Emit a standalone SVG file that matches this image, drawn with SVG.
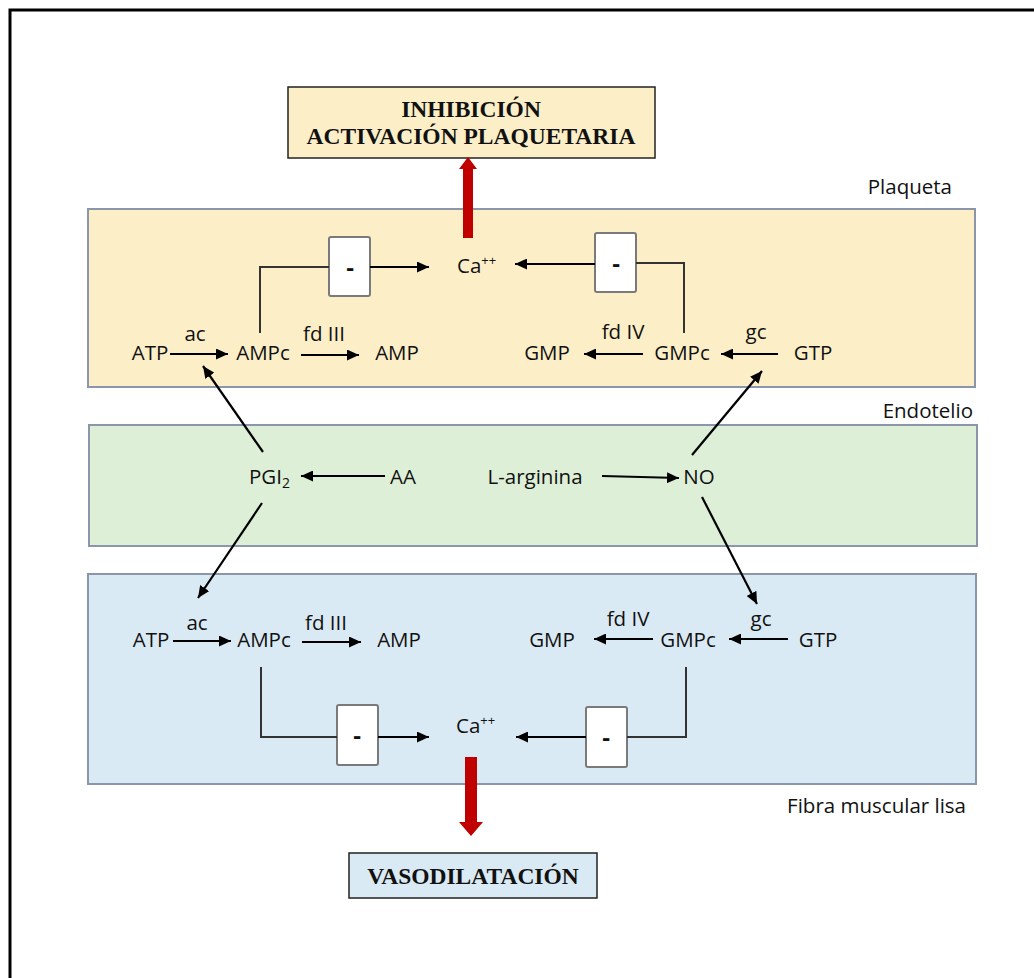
<svg xmlns="http://www.w3.org/2000/svg" width="1034" height="978" viewBox="0 0 1034 978">
  <defs>
    <marker id="arr" markerUnits="userSpaceOnUse" markerWidth="12" markerHeight="11" refX="12" refY="5.5" orient="auto">
      <path d="M0,0 L12,5.5 L0,11 z" fill="#000"/>
    </marker>
    <style>
      .zone { stroke: #8b96ab; stroke-width: 2; }
      .t { font-family: "Open Sans", "Liberation Sans", sans-serif; font-size: 20.5px; fill: #111; }
      .lbl { font-family: "Open Sans", "Liberation Sans", sans-serif; font-size: 20.5px; fill: #111; }
      .sup { font-size: 13px; }
      .hd { font-family: "Liberation Serif", "Times New Roman", serif; font-size: 23.5px; font-weight: bold; fill: #111; }
      .minus { fill: #fff; stroke: #7a7a7a; stroke-width: 2; }
      .mtxt { font-family: "Open Sans", "Liberation Sans", sans-serif; font-size: 24px; font-weight: bold; fill: #111; }
      .c { stroke: #000; stroke-width: 2.2; fill: none; }
      .b { stroke: #333; stroke-width: 2; fill: none; }
      .red { fill: #c00000; }
    </style>
  </defs>

  <!-- frame -->
  <rect x="10" y="10" width="1030" height="975" fill="#fff" stroke="#000" stroke-width="3"/>

  <!-- compartments -->
  <g id="plaqueta">
    <rect class="zone" x="88" y="209" width="887" height="178" fill="#fcefc8"/>
    <text class="lbl" x="952" y="194" text-anchor="end">Plaqueta</text>
  </g>
  <g id="endotelio">
    <rect class="zone" x="89" y="425" width="888" height="121" fill="#ddefd6"/>
    <text class="lbl" x="973" y="418" text-anchor="end">Endotelio</text>
  </g>
  <g id="fibra">
    <rect class="zone" x="88" y="574" width="888" height="210" fill="#daeaf4"/>
    <text class="lbl" x="966" y="813" text-anchor="end">Fibra muscular lisa</text>
  </g>

  <!-- outcome boxes -->
  <g id="inhibicion">
    <rect x="288" y="87" width="367" height="71" fill="#fcefc8" stroke="#222" stroke-width="1.5"/>
    <text class="hd" x="471" y="117" text-anchor="middle">INHIBICIÓN</text>
    <text class="hd" x="471" y="144" text-anchor="middle">ACTIVACIÓN PLAQUETARIA</text>
  </g>
  <g id="vasodilatacion">
    <rect x="349" y="853" width="248" height="45" fill="#daeaf4" stroke="#222" stroke-width="1.5"/>
    <text class="hd" x="473" y="884" text-anchor="middle">VASODILATACIÓN</text>
  </g>

  <!-- platelet nodes -->
  <g id="p-atp"><text class="t" x="150" y="360" text-anchor="middle">ATP</text></g>
  <g id="p-ampc"><text class="t" x="263" y="360" text-anchor="middle">AMPc</text></g>
  <g id="p-amp"><text class="t" x="397" y="360" text-anchor="middle">AMP</text></g>
  <g id="p-gmp"><text class="t" x="547" y="360" text-anchor="middle">GMP</text></g>
  <g id="p-gmpc"><text class="t" x="682" y="360" text-anchor="middle">GMPc</text></g>
  <g id="p-gtp"><text class="t" x="813" y="360" text-anchor="middle">GTP</text></g>
  <g id="p-ca"><text class="t" x="457" y="273">Ca<tspan class="sup" dy="-8">++</tspan></text></g>
  <g id="p-minus-l"><rect class="minus" x="329" y="237" width="41" height="59" rx="2"/><text class="mtxt" x="350" y="276" text-anchor="middle">-</text></g>
  <g id="p-minus-r"><rect class="minus" x="595" y="233" width="41" height="59" rx="2"/><text class="mtxt" x="616" y="272" text-anchor="middle">-</text></g>

  <!-- endothelium nodes -->
  <g id="e-pgi2"><text class="t" x="249" y="484">PGI<tspan font-size="14" dy="4">2</tspan></text></g>
  <g id="e-aa"><text class="t" x="403" y="484" text-anchor="middle">AA</text></g>
  <g id="e-arg"><text class="t" x="535" y="484" text-anchor="middle">L-arginina</text></g>
  <g id="e-no"><text class="t" x="699" y="484" text-anchor="middle">NO</text></g>

  <!-- smooth muscle nodes -->
  <g id="m-atp"><text class="t" x="151" y="647" text-anchor="middle">ATP</text></g>
  <g id="m-ampc"><text class="t" x="264" y="647" text-anchor="middle">AMPc</text></g>
  <g id="m-amp"><text class="t" x="399" y="647" text-anchor="middle">AMP</text></g>
  <g id="m-gmp"><text class="t" x="552" y="647" text-anchor="middle">GMP</text></g>
  <g id="m-gmpc"><text class="t" x="688" y="647" text-anchor="middle">GMPc</text></g>
  <g id="m-gtp"><text class="t" x="818" y="647" text-anchor="middle">GTP</text></g>
  <g id="m-ca"><text class="t" x="456" y="733">Ca<tspan class="sup" dy="-8">++</tspan></text></g>
  <g id="m-minus-l"><rect class="minus" x="337" y="705" width="41" height="60" rx="2"/><text class="mtxt" x="357" y="744" text-anchor="middle">-</text></g>
  <g id="m-minus-r"><rect class="minus" x="586" y="707" width="41" height="60" rx="2"/><text class="mtxt" x="606" y="746" text-anchor="middle">-</text></g>

  <!-- connectors -->
  <g id="connectors">
    <!-- platelet -->
    <line class="c" x1="170" y1="354" x2="228" y2="354" marker-end="url(#arr)"/>
    <text class="t" x="195" y="341" text-anchor="middle">ac</text>
    <line class="c" x1="301" y1="355" x2="359" y2="355" marker-end="url(#arr)"/>
    <text class="t" x="324" y="341" text-anchor="middle">fd III</text>
    <line class="c" x1="643" y1="354" x2="584" y2="354" marker-end="url(#arr)"/>
    <text class="t" x="623" y="339" text-anchor="middle">fd IV</text>
    <line class="c" x1="778" y1="354" x2="721" y2="354" marker-end="url(#arr)"/>
    <text class="t" x="756" y="339" text-anchor="middle">gc</text>
    <polyline class="b" points="260,333 260,267 329,267"/>
    <line class="c" x1="370" y1="267" x2="429" y2="267" marker-end="url(#arr)"/>
    <polyline class="b" points="684,333 684,263 636,263"/>
    <line class="c" x1="595" y1="264" x2="515" y2="264" marker-end="url(#arr)"/>

    <!-- endothelium -->
    <line class="c" x1="385" y1="476" x2="301" y2="476" marker-end="url(#arr)"/>
    <line class="c" x1="602" y1="476" x2="679" y2="478" marker-end="url(#arr)"/>
    <line class="c" x1="263" y1="452" x2="203" y2="366" marker-end="url(#arr)"/>
    <line class="c" x1="692" y1="455" x2="762" y2="371" marker-end="url(#arr)"/>
    <line class="c" x1="262" y1="503" x2="198" y2="598" marker-end="url(#arr)"/>
    <line class="c" x1="702" y1="497" x2="757" y2="604" marker-end="url(#arr)"/>

    <!-- smooth muscle -->
    <line class="c" x1="173" y1="641" x2="231" y2="641" marker-end="url(#arr)"/>
    <text class="t" x="197" y="630" text-anchor="middle">ac</text>
    <line class="c" x1="302" y1="642" x2="361" y2="642" marker-end="url(#arr)"/>
    <text class="t" x="326" y="630" text-anchor="middle">fd III</text>
    <line class="c" x1="653" y1="639" x2="594" y2="639" marker-end="url(#arr)"/>
    <text class="t" x="628" y="626" text-anchor="middle">fd IV</text>
    <line class="c" x1="788" y1="639" x2="729" y2="639" marker-end="url(#arr)"/>
    <text class="t" x="761" y="626" text-anchor="middle">gc</text>
    <polyline class="b" points="261,667 261,737 337,737"/>
    <line class="c" x1="378" y1="737" x2="429" y2="737" marker-end="url(#arr)"/>
    <polyline class="b" points="686,667 686,737 627,737"/>
    <line class="c" x1="586" y1="737" x2="516" y2="737" marker-end="url(#arr)"/>

    <!-- outcome arrows -->
    <polygon class="red" points="463,238 473,238 473,169 477,169 468,157 459,169 463,169"/>
    <polygon class="red" points="465,757 477,757 477,822 483,822 471,836 459,822 465,822"/>
  </g>
</svg>
